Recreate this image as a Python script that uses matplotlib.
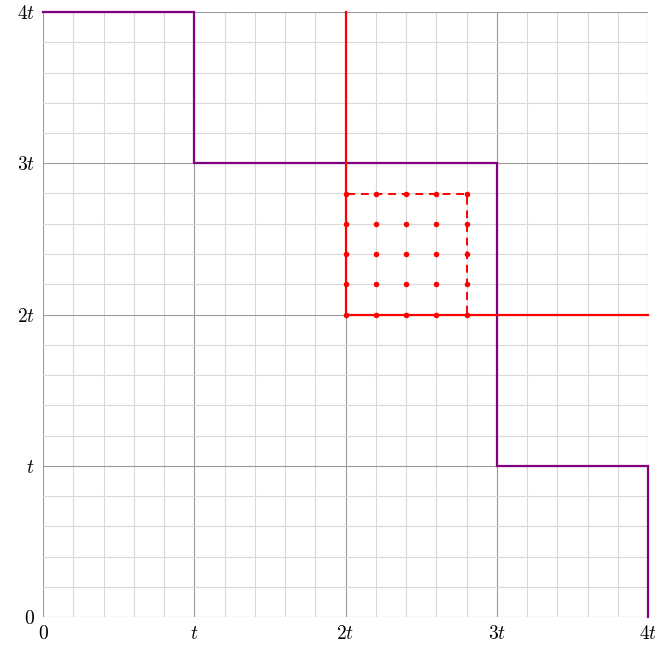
import numpy as np
import matplotlib.pyplot as plt

plt.rcParams['mathtext.fontset'] = 'cm'
plt.rcParams['font.family'] = 'serif'
plt.rcParams['font.serif'] = ['DejaVu Serif']

# staircase (in units of t)
stair_x = [0, 1, 1, 3, 3, 4, 4]
stair_y = [4, 4, 3, 3, 1, 1, 0]

# red corner lines
red_vx = [2, 2]
red_vy = [4, 2]
red_hx = [2, 4]
red_hy = [2, 2]

# dashed square
sq_x = [2, 2.8, 2.8, 2, 2]
sq_y = [2, 2, 2.8, 2.8, 2]

# dot grid
dot_vals = [2.0, 2.2, 2.4, 2.6, 2.8]

tick_pos = [0, 1, 2, 3, 4]
tick_labels = ['$0$', '$t$', '$2t$', '$3t$', '$4t$']

fig = plt.figure(figsize=(6.55, 6.46), dpi=100)
ax = fig.add_axes([43 / 655, 29 / 646, 605 / 655, 605 / 646])

ax.set_xlim(0, 4)
ax.set_ylim(0, 4)
ax.set_xticks(tick_pos)
ax.set_xticklabels(tick_labels)
ax.set_yticks(tick_pos)
ax.set_yticklabels(tick_labels)
ax.set_xticks(np.arange(0, 4.01, 0.2), minor=True)
ax.set_yticks(np.arange(0, 4.01, 0.2), minor=True)
ax.grid(which='minor', color='#d9d9d9', lw=0.8)
ax.grid(which='major', color='#9a9a9a', lw=0.8)
ax.tick_params(which='both', length=0, labelsize=14)
ax.tick_params(axis='x', pad=6)
ax.tick_params(axis='y', pad=6)
for s in ax.spines.values():
    s.set_visible(False)
ax.set_axisbelow(True)

ax.plot(stair_x, stair_y, color='#800080', lw=1.6, clip_on=False, solid_joinstyle='miter')
ax.plot(red_vx, red_vy, color='red', lw=1.6, clip_on=False)
ax.plot(red_hx, red_hy, color='red', lw=1.6, clip_on=False)
ax.plot(sq_x, sq_y, color='red', lw=1.4, ls=(0, (4, 3)))

gx, gy = np.meshgrid(dot_vals, dot_vals)
ax.plot(gx.ravel(), gy.ravel(), 'o', color='red', ms=4, mew=0)

fig.savefig('out.png', dpi=100)
